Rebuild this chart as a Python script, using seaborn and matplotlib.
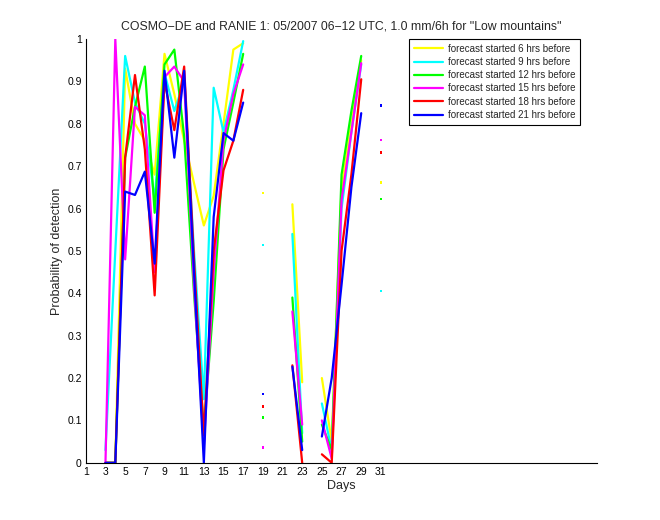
import numpy as np
import pandas as pd
import matplotlib
matplotlib.use("Agg")
import matplotlib.pyplot as plt
from matplotlib.lines import Line2D
import seaborn as sns

# -----------------------------
# DATA
# -----------------------------
nan = np.nan
days = list(range(1, 32))

labels = [
    "forecast started 6 hrs before",
    "forecast started 9 hrs before",
    "forecast started 12 hrs before",
    "forecast started 15 hrs before",
    "forecast started 18 hrs before",
    "forecast started 21 hrs before",
]
colors = ["#ffff00", "#00ffff", "#00ff00", "#ff00ff", "#ff0000", "#0000ff"]

#            d1   d2   d3    d4    d5    d6     d7    d8    d9     d10    d11    d12   d13    d14    d15   d16    d17   d18  d19    d20  d21  d22    d23   d24  d25   d26   d27   d28   d29    d30  d31
pod_6h  = [nan, nan, 0.0,  0.0,  0.93, 0.80,  0.76, 0.68, 0.965, 0.87,  0.76,  0.66, 0.56,  0.63,  0.80, 0.975, 0.99, nan, 0.637, nan, nan, 0.61,  0.19, nan, 0.20, 0.05, 0.65, 0.80, 0.95,  nan, 0.661]
pod_9h  = [nan, nan, 0.03, 0.50, 0.96, 0.85,  0.80, 0.62, 0.92,  0.83,  0.90,  0.50, 0.15,  0.885, 0.78, 0.88,  0.995, nan, 0.514, nan, nan, 0.54, 0.07, nan, 0.14, 0.03, 0.60, 0.78, 0.94,  nan, 0.406]
pod_12h = [nan, nan, 0.0,  0.0,  0.72, 0.84,  0.935, 0.59, 0.94, 0.975, 0.77,  0.40, 0.08,  0.38,  0.74, 0.85,  0.965, nan, 0.107, nan, nan, 0.39, 0.05, nan, 0.09, 0.03, 0.68, 0.83, 0.96,  nan, 0.623]
pod_15h = [nan, nan, 0.0,  1.0,  0.48, 0.84,  0.82, 0.45, 0.91,  0.935, 0.90,  0.42, 0.04,  0.45,  0.76, 0.87,  0.94, nan, 0.036, nan, nan, 0.357, 0.09, nan, 0.10, 0.01, 0.62, 0.78, 0.943, nan, 0.762]
pod_18h = [nan, nan, 0.0,  0.0,  0.72, 0.915, 0.74, 0.395, 0.90, 0.785, 0.935, 0.48, 0.065, 0.50,  0.69, 0.76,  0.88, nan, 0.133, nan, nan, 0.23, 0.0,  nan, 0.02, 0.0,  0.50, 0.68, 0.905, nan, 0.732]
pod_21h = [nan, nan, 0.0,  0.0,  0.64, 0.632, 0.687, 0.47, 0.925, 0.72, 0.925, 0.45, 0.0,   0.58,  0.778, 0.76, 0.85, nan, 0.163, nan, nan, 0.227, 0.03, nan, 0.062, 0.20, 0.42, 0.65, 0.825, nan, 0.843]

series = [pod_6h, pod_9h, pod_12h, pod_15h, pod_18h, pod_21h]

title = 'COSMO\u2212DE and RANIE 1: 05/2007 06\u221212 UTC, 1.0 mm/6h for "Low mountains"'

# -----------------------------
# LONG TABLE WITH NAN-BROKEN SEGMENTS
# -----------------------------
rows = []
for label, vals in zip(labels, series):
    seg = 0
    prev_nan = True
    for d, v in zip(days, vals):
        if np.isnan(v):
            prev_nan = True
            continue
        if prev_nan:
            seg += 1
        prev_nan = False
        rows.append((label, d, v, seg))
df = pd.DataFrame(rows, columns=["series", "day", "pod", "seg"])
df["n"] = df.groupby(["series", "seg"])["pod"].transform("size")

# -----------------------------
# PLOT
# -----------------------------
sns.set_style("white")
plt.rcParams["font.family"] = ["Liberation Sans", "DejaVu Sans"]

fig = plt.figure(figsize=(6.6, 5.2), dpi=100)
ax = fig.add_axes([0.13, 0.11, 0.775, 0.815])

palette = dict(zip(labels, colors))
sns.lineplot(data=df[df["n"] > 1], x="day", y="pod", hue="series", units="seg",
             estimator=None, hue_order=labels, palette=palette, linewidth=1.6,
             legend=False, ax=ax)
sns.scatterplot(data=df[df["n"] == 1], x="day", y="pod", hue="series",
                hue_order=labels, palette=palette, marker="s", s=3,
                linewidth=0, legend=False, ax=ax)

ax.set_xlim(1, 53)
ax.set_ylim(0, 1)
ax.set_xticks(range(1, 32, 2))
yt = np.round(np.arange(0, 1.01, 0.1), 1)
ax.set_yticks(yt)
ax.set_yticklabels(["0" if v == 0 else ("1" if v == 1 else f"{v:.1f}") for v in yt])
ax.tick_params(direction="in", length=4, width=0.8, labelsize=7.5, colors="black",
               top=False, right=False, pad=3)
for s in ["top", "right"]:
    ax.spines[s].set_visible(False)
for s in ["left", "bottom"]:
    ax.spines[s].set_color("black")
    ax.spines[s].set_linewidth(0.8)

ax.set_xlabel("Days", fontsize=9, labelpad=2)
ax.set_ylabel("Probability of detection", fontsize=9, labelpad=3)
ax.set_title(title, fontsize=8.8, pad=7)

handles = [Line2D([0], [0], color=c, lw=1.6) for c in colors]
leg = ax.legend(handles, labels, loc="upper right", bbox_to_anchor=(0.967, 1.0),
                fontsize=7, frameon=True, fancybox=False, framealpha=1,
                edgecolor="black", borderaxespad=0, handlelength=3.0,
                labelspacing=0.33, borderpad=0.5, handletextpad=0.5)
leg.get_frame().set_linewidth(0.8)

fig.savefig("out.png", dpi=100)
